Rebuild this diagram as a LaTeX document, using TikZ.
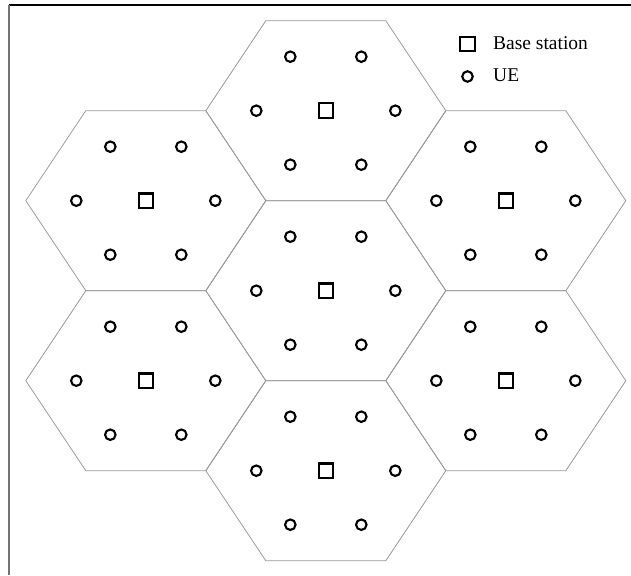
\documentclass[tikz,border=0pt]{standalone}
\usepackage{fontspec}
\setmainfont{Liberation Serif}
\tikzset{
  cell/.style={draw=black!40, line width=0.8pt},
  bs/.style={draw, rectangle, line width=2.1pt, minimum size=14.5pt, inner sep=0pt},
  ue/.style={draw, circle, line width=2.1pt, minimum size=10.5pt, inner sep=0pt},
  legtext/.style={anchor=base west, inner sep=0pt, font=\fontsize{19.5}{22}\selectfont},
}

\begin{document}
\begin{tikzpicture}[x=1pt, y=-1pt]
    \useasboundingbox (0,0) rectangle (631,575);
    % frame
    \coordinate (ftl) at (9,5);
    \coordinate (ftr) at (631,5);
    \coordinate (fbl) at (9,575);
    \draw[line width=1.3pt] (ftl) -- (ftr);
    \draw[black!55, line width=1.6pt] (ftl) -- (fbl);
    % cells
    \foreach \n/\cx/\cy in {c/325.8/290.7, n/325.8/110.7, s/325.8/470.7,
                            nw/145.8/200.7, ne/505.8/200.7,
                            sw/145.8/380.7, se/505.8/380.7}{
      \begin{scope}[shift={(\cx,\cy)}]
        \draw[cell] (-120,0) -- (-60,-90) -- (60,-90) -- (120,0) -- (60,90) -- (-60,90) -- cycle;
        \node[bs] (bs-\n) at (0,0) {};
        \foreach \i/\ux/\uy in {1/35.5/-54, 2/-35.5/-54, 3/-69.5/0,
                                4/-35.5/54, 5/35.5/54, 6/69.5/0}{
          \node[ue] (ue-\n-\i) at (\ux,\uy) {};
        }
      \end{scope}
    }
    % legend
    \node[bs] (legbs) at (467.5,44) {};
    \node[ue] (legue) at (467.5,76.5) {};
    \node[legtext] (legbstext) at (493,49.5) {Base station};
    \node[legtext] (leguetext) at (493,82) {UE};
  \end{tikzpicture}
\end{document}
